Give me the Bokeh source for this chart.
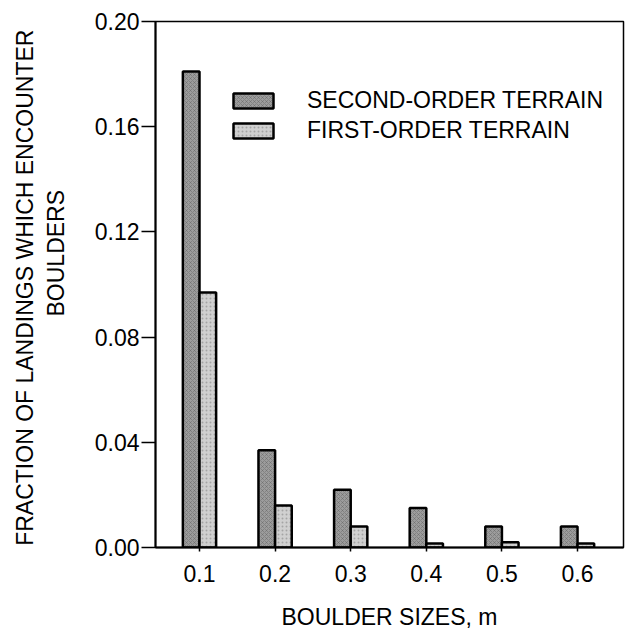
from bokeh.plotting import figure
from bokeh.models import (Range1d, FixedTicker, Title, Legend, LegendItem,
                          ColumnDataSource, NumeralTickFormatter)
from bokeh.embed import file_html
from bokeh.resources import INLINE

# ---- data ----
sizes = [0.1, 0.2, 0.3, 0.4, 0.5, 0.6]
size_labels = ["0.1", "0.2", "0.3", "0.4", "0.5", "0.6"]
second_order = [0.181, 0.037, 0.022, 0.015, 0.008, 0.008]
first_order = [0.097, 0.016, 0.008, 0.0015, 0.002, 0.0015]
y_ticks = [0.0, 0.04, 0.08, 0.12, 0.16, 0.20]

FONT = "Liberation Sans"
FS = "23px"
BAR_W = 0.022

p = figure(width=626, height=632, output_backend="svg", toolbar_location=None,
           x_range=Range1d(0.0418, 0.6608), y_range=Range1d(0.0, 0.20),
           min_border_left=155, min_border_top=21, min_border_right=3,
           min_border_bottom=84)
p.background_fill_color = "white"
p.border_fill_color = "white"
p.outline_line_color = "black"
p.outline_line_width = 1.5
p.xgrid.visible = False
p.ygrid.visible = False

src = ColumnDataSource(dict(
    x2=[s - BAR_W / 2 for s in sizes], x1=[s + BAR_W / 2 for s in sizes],
    second=second_order, first=first_order))

r2 = p.vbar(x="x2", top="second", bottom=0, width=BAR_W, source=src,
            fill_color="#9c9c9c", line_color="black", line_width=2.5,
            hatch_pattern="x", hatch_color="#555555", hatch_scale=4,
            hatch_weight=0.6, hatch_alpha=0.6)
r1 = p.vbar(x="x1", top="first", bottom=0, width=BAR_W, source=src,
            fill_color="#d0d0d0", line_color="black", line_width=2.5,
            hatch_pattern=".", hatch_color="#777777", hatch_scale=4,
            hatch_weight=0.6, hatch_alpha=0.5)

# axes
p.xaxis.ticker = FixedTicker(ticks=sizes)
p.xaxis.major_label_overrides = {s: l for s, l in zip(sizes, size_labels)}
p.xaxis.major_tick_in = 0
p.xaxis.major_tick_out = 4
p.xaxis.minor_tick_line_color = None
p.xaxis.major_label_standoff = 13
p.xaxis.axis_label = "BOULDER SIZES, m"
p.xaxis.axis_label_standoff = 19
p.xaxis.axis_label_text_font_style = "normal"

p.yaxis.ticker = FixedTicker(ticks=y_ticks)
p.yaxis.formatter = NumeralTickFormatter(format="0.00")
p.yaxis.major_tick_in = 0
p.yaxis.major_tick_out = 14
p.yaxis.minor_tick_line_color = None
p.yaxis.major_label_standoff = 2

for ax in (p.xaxis[0], p.yaxis[0]):
    ax.axis_line_width = 2
    ax.axis_line_color = "black"
    ax.major_tick_line_width = 1.5
    ax.major_tick_line_color = "black"
    ax.major_label_text_font = FONT
    ax.major_label_text_font_size = FS
    ax.major_label_text_color = "black"
    ax.axis_label_text_font = FONT
    ax.axis_label_text_font_size = FS
    ax.axis_label_text_color = "black"

# two-line y-axis title
t_b = Title(text="BOULDERS", align="left", offset=231, standoff=46,
            text_font=FONT, text_font_size=FS, text_font_style="normal",
            text_color="black")
t_a = Title(text="FRACTION OF LANDINGS WHICH  ENCOUNTER", align="center",
            standoff=-40, text_font=FONT, text_font_size=FS,
            text_font_style="normal", text_color="black")
p.add_layout(t_b, "left")
p.add_layout(t_a, "left")

legend = Legend(items=[LegendItem(label="SECOND-ORDER TERRAIN", renderers=[r2]),
                       LegendItem(label="FIRST-ORDER TERRAIN", renderers=[r1])],
                location=(73, 403), glyph_width=50, glyph_height=19,
                label_standoff=29, spacing=3, padding=0, margin=0,
                border_line_alpha=0, background_fill_alpha=0,
                label_text_font=FONT, label_text_font_size=FS,
                label_text_color="black")
p.add_layout(legend, "center")

open("out.html", "w").write(file_html(p, INLINE))
